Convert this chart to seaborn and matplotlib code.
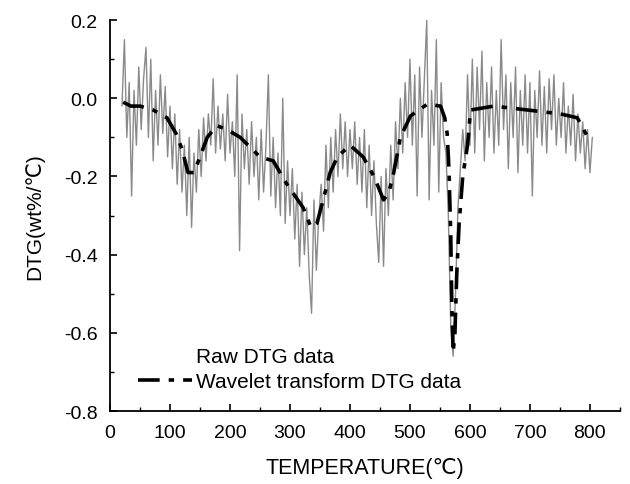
import numpy as np
import pandas as pd
import matplotlib
matplotlib.use("Agg")
import matplotlib.pyplot as plt
from matplotlib.ticker import MultipleLocator
import seaborn as sns

# raw DTG readings, every 4 C starting at 20 C
raw_dtg = [-0.02, 0.15, -0.10, 0.04, -0.25, 0.02, -0.12, 0.08, -0.08, 0.05,
           0.13, -0.10, 0.10, -0.16, 0.02, -0.12, 0.06, -0.09, 0.03, -0.15,
           -0.02, -0.18, -0.04, -0.22, -0.08, -0.24, -0.12, -0.30, -0.10, -0.33,
           -0.14, -0.24, -0.08, -0.20, -0.05, -0.16, -0.04, -0.12, 0.05, -0.14,
           -0.02, -0.13, -0.04, -0.16, 0.01, -0.14, -0.06, -0.20, 0.06, -0.39,
           -0.04, -0.18, -0.08, -0.22, -0.06, -0.20, -0.10, -0.26, -0.08, -0.24,
           -0.12, 0.06, -0.25, -0.10, -0.28, -0.14, -0.30, 0.00, -0.32, -0.16,
           -0.30, -0.18, -0.36, -0.22, -0.43, -0.24, -0.40, -0.28, -0.45, -0.55,
           -0.26, -0.44, -0.30, -0.22, -0.34, -0.12, -0.28, -0.10, -0.24, -0.08,
           -0.20, -0.04, -0.18, -0.06, -0.20, -0.08, -0.18, -0.06, -0.22, -0.10,
           -0.24, -0.08, -0.28, -0.12, -0.30, -0.16, -0.32, -0.42, -0.20, -0.43,
           -0.18, -0.30, -0.12, -0.26, -0.06, -0.18, 0.00, -0.14, 0.04, -0.10,
           0.10, -0.12, 0.06, -0.25, 0.08, -0.10, 0.05, 0.20, -0.26, 0.02,
           -0.12, 0.15, -0.24, 0.04, -0.10, -0.14, -0.30, -0.58, -0.66, -0.50,
           -0.28, -0.18, -0.08, -0.16, 0.06, -0.12, 0.10, -0.14, 0.08, -0.08,
           0.12, -0.16, 0.04, -0.10, 0.08, -0.14, 0.02, -0.12, 0.15, -0.08,
           0.06, -0.18, 0.04, -0.10, 0.08, -0.19, 0.02, -0.12, 0.06, -0.14,
           0.04, -0.25, 0.02, -0.10, 0.07, -0.12, 0.03, -0.14, 0.05, -0.08,
           0.06, -0.12, 0.00, -0.10, 0.04, -0.14, -0.02, -0.12, 0.01, -0.16,
           -0.04, -0.14, -0.06, -0.18, -0.08, -0.19, -0.10]
raw_temp = np.arange(20, 20 + 4 * len(raw_dtg), 4)

# wavelet smoothed curve
wave_temp = [22, 35, 50, 72, 95, 110, 120, 130, 140, 150, 162, 178, 195, 217,
             250, 272, 295, 322, 335, 345, 357, 367, 379, 400, 422, 440, 456,
             465, 473, 484, 501, 529, 551, 558, 562, 565, 568, 570, 572, 575,
             578, 582, 588, 596, 601, 640, 696, 751, 779, 800]
wave_dtg = [-0.01, -0.02, -0.02, -0.03, -0.05, -0.09, -0.13, -0.19, -0.19, -0.15,
            -0.10, -0.07, -0.08, -0.10, -0.15, -0.16, -0.22, -0.28, -0.33, -0.32,
            -0.25, -0.19, -0.15, -0.12, -0.15, -0.20, -0.26, -0.24, -0.19, -0.10,
            -0.045, -0.015, -0.02, -0.05, -0.09, -0.18, -0.35, -0.55, -0.65, -0.60,
            -0.45, -0.32, -0.20, -0.12, -0.03, -0.02, -0.03, -0.04, -0.05, -0.11]

raw_df = pd.DataFrame({"T": raw_temp, "DTG": raw_dtg})
wave_df = pd.DataFrame({"T": wave_temp, "DTG": wave_dtg})

sns.set_style("ticks", {"axes.edgecolor": "black", "text.color": "black",
                        "axes.labelcolor": "black", "xtick.color": "black",
                        "ytick.color": "black"})
plt.rcParams["font.family"] = ["Liberation Sans", "DejaVu Sans"]

fig = plt.figure(figsize=(6.3, 4.85), dpi=100)
ax = fig.add_axes([0.1746, 0.1505, 0.8094, 0.806])

sns.lineplot(data=raw_df, x="T", y="DTG", ax=ax, color="#8a8a8a", lw=1.0,
             label="Raw DTG data")
sns.lineplot(data=wave_df, x="T", y="DTG", ax=ax, color="black", lw=2.6,
             label="Wavelet transform DTG data")
ax.lines[1].set_dashes([6, 2.5, 1.5, 2.5])

ax.set_xlim(0, 850)
ax.set_ylim(-0.8, 0.2)
ax.xaxis.set_major_locator(MultipleLocator(100))
ax.xaxis.set_minor_locator(MultipleLocator(50))
ax.yaxis.set_major_locator(MultipleLocator(0.2))
ax.yaxis.set_minor_locator(MultipleLocator(0.1))
ax.set_xticks(np.arange(0, 900, 100))
ax.set_xticklabels([str(v) for v in range(0, 900, 100)])
ax.set_yticks([0.2, 0.0, -0.2, -0.4, -0.6, -0.8])
ax.set_yticklabels(["0.2", "0.0", "-0.2", "-0.4", "-0.6", "-0.8"])
ax.tick_params(which="major", direction="in", length=5, width=1.2, labelsize=14, pad=9)
ax.tick_params(which="minor", direction="in", length=3, width=1.0)
sns.despine(ax=ax)
for s in ["left", "bottom"]:
    ax.spines[s].set_linewidth(1.3)

ax.set_xlabel("TEMPERATURE(℃)", fontsize=15.5, labelpad=12)
ax.set_ylabel("DTG(wt%/℃)", fontsize=15, labelpad=14)

leg = ax.legend(loc="lower left", bbox_to_anchor=(0.035, 0.025), frameon=False,
                fontsize=15, handlelength=2.6, handletextpad=0.15,
                borderpad=0, labelspacing=0.3)
leg.legend_handles[0].set_visible(False)

fig.savefig("out.png", dpi=100)
